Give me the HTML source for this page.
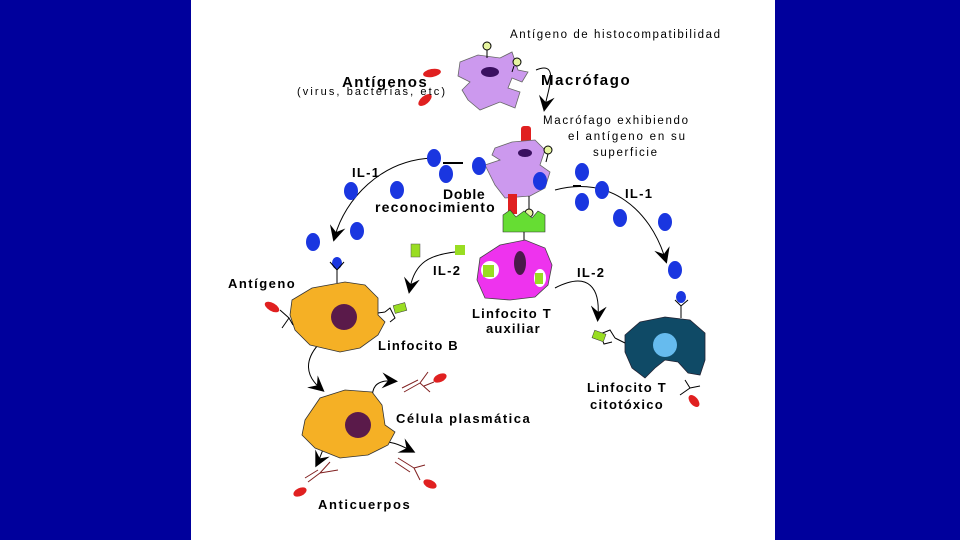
<!DOCTYPE html>
<html><head><meta charset="utf-8"><style>
html,body{margin:0;padding:0;width:960px;height:540px;overflow:hidden;background:#00009c}
svg{display:block}
.b{font-family:"Liberation Sans",sans-serif;font-weight:bold;fill:#000;letter-spacing:1.3px}
.n{font-family:"Liberation Sans",sans-serif;fill:#000}
</style></head><body>
<svg width="960" height="540" viewBox="0 0 960 540">
<rect x="0" y="0" width="960" height="540" fill="#00009c"/>
<rect x="191" y="0" width="584" height="540" fill="#fff"/>
<defs>
<marker id="ah" markerWidth="16" markerHeight="16" refX="10" refY="8" orient="auto" markerUnits="userSpaceOnUse"><path d="M0,0 L16,8 L0,16 L6,8 Z" fill="#000"/></marker>
</defs>
<g stroke="#000" fill="none" stroke-width="1">
<path d="M536,70 C560,60 548,90 545,106" marker-end="url(#ah)"/>
<path d="M433,158 C380,160 345,200 335,236" marker-end="url(#ah)"/>
<path d="M555,190 C610,175 650,210 665,258" marker-end="url(#ah)"/>
<path d="M455,252 C430,255 415,262 410,288" marker-end="url(#ah)"/>
<path d="M555,288 C590,270 600,290 598,316" marker-end="url(#ah)"/>
<path d="M318,345 C305,360 305,375 320,388" marker-end="url(#ah)"/>
<path d="M372,400 C372,388 375,380 392,381" marker-end="url(#ah)"/>
<path d="M328,440 C322,450 320,458 318,462" marker-end="url(#ah)"/>
<path d="M376,442 C390,440 400,445 410,450" marker-end="url(#ah)"/>
<line x1="443" y1="163" x2="463" y2="163" stroke-width="2"/>
<line x1="573" y1="186" x2="581" y2="186" stroke-width="2"/>
</g>
<path d="M460,62 L478,55 L500,58 L512,52 L518,70 L528,72 L522,82 L512,78 L508,88 L520,92 L515,108 L500,102 L480,110 L468,100 L462,90 L470,82 L458,76 Z" fill="#cc99ee" stroke="#666" stroke-width="0.8"/>
<ellipse cx="490" cy="72" rx="9" ry="5" fill="#3a1060"/>
<line x1="487" y1="49" x2="487" y2="58" stroke="#000"/><circle cx="487" cy="46" r="4" fill="#e6f5a0" stroke="#000"/>
<line x1="514" y1="66" x2="512" y2="72" stroke="#000"/><circle cx="517" cy="62" r="4" fill="#e6f5a0" stroke="#000"/>
<ellipse cx="432" cy="73" rx="9" ry="4" fill="#e02020" transform="rotate(-10 432 73)"/>
<ellipse cx="425" cy="100" rx="8" ry="4" fill="#e02020" transform="rotate(-40 425 100)"/>
<rect x="521" y="126" width="10" height="20" rx="3" fill="#e02020"/>
<path d="M495,148 L512,142 L535,140 L545,150 L540,165 L550,172 L545,188 L530,196 L505,198 L495,185 L485,165 L500,160 L492,155 Z" fill="#cc99ee" stroke="#666" stroke-width="0.8"/>
<ellipse cx="525" cy="153" rx="7" ry="4" fill="#3a1060"/>
<line x1="548" y1="154" x2="546" y2="162" stroke="#000"/><circle cx="548" cy="150" r="4" fill="#e6f5a0" stroke="#000"/>
<rect x="508" y="194" width="9" height="20" fill="#e02020"/>
<line x1="529" y1="196" x2="529" y2="210" stroke="#000"/><circle cx="529" cy="213" r="4" fill="#e6f5a0" stroke="#000"/>
<path d="M503,215 L510,210 L516,217 L524,211 L532,218 L538,211 L545,215 L545,232 L503,232 Z" fill="#66dd33" stroke="#333" stroke-width="0.6"/>
<line x1="524" y1="232" x2="524" y2="242" stroke="#000"/>
<g fill="#1a36e0">
<ellipse cx="434" cy="158" rx="7" ry="9"/><ellipse cx="446" cy="174" rx="7" ry="9"/>
<ellipse cx="479" cy="166" rx="7" ry="9"/><ellipse cx="540" cy="181" rx="7" ry="9"/>
<ellipse cx="582" cy="172" rx="7" ry="9"/><ellipse cx="602" cy="190" rx="7" ry="9"/>
<ellipse cx="582" cy="202" rx="7" ry="9"/><ellipse cx="620" cy="218" rx="7" ry="9"/>
<ellipse cx="665" cy="222" rx="7" ry="9"/><ellipse cx="675" cy="270" rx="7" ry="9"/>
<ellipse cx="351" cy="191" rx="7" ry="9"/><ellipse cx="397" cy="190" rx="7" ry="9"/>
<ellipse cx="357" cy="231" rx="7" ry="9"/><ellipse cx="313" cy="242" rx="7" ry="9"/>
<ellipse cx="337" cy="263" rx="5" ry="6"/><ellipse cx="681" cy="297" rx="5" ry="6"/>
</g>
<path d="M480,258 L500,245 L525,240 L545,248 L552,265 L548,285 L535,297 L510,300 L485,298 L477,280 Z" fill="#ee33ee" stroke="#444" stroke-width="0.8"/>
<ellipse cx="520" cy="263" rx="6" ry="12" fill="#4a1a4a"/>
<ellipse cx="490" cy="270" rx="9" ry="9" fill="#fff"/><rect x="483" y="265" width="11" height="12" fill="#99dd22"/>
<ellipse cx="540" cy="278" rx="6" ry="9" fill="#fff"/><rect x="535" y="273" width="8" height="11" fill="#99dd22"/>
<rect x="411" y="244" width="9" height="13" fill="#99dd22" stroke="#555" stroke-width="0.5"/>
<rect x="455" y="245" width="10" height="10" fill="#99dd22"/>
<path d="M292,300 L312,288 L345,282 L365,285 L378,298 L378,315 L385,322 L378,335 L360,348 L340,352 L310,345 L295,330 L290,315 Z" fill="#f5b025" stroke="#333" stroke-width="0.8"/>
<circle cx="344" cy="317" r="13" fill="#5a1a4a"/>
<path d="M330,262 L337,270 L344,262 M337,270 L337,283" stroke="#000" fill="none"/>
<path d="M280,310 L289,318 L282,328 M289,318 L293,325" stroke="#000" fill="none"/>
<ellipse cx="272" cy="307" rx="8" ry="4" fill="#e02020" transform="rotate(30 272 307)"/>
<path d="M385,312 L390,308 L395,318 L390,322 M385,312 L378,313" stroke="#000" fill="none"/>
<rect x="394" y="304" width="12" height="8" fill="#99dd22" stroke="#333" stroke-width="0.5" transform="rotate(-15 400 308)"/>
<path d="M305,420 L320,398 L345,390 L372,392 L382,405 L385,425 L395,432 L388,445 L368,455 L340,458 L315,448 L302,435 Z" fill="#f5b025" stroke="#333" stroke-width="0.8"/>
<circle cx="358" cy="425" r="13" fill="#5a1a4a"/>
<g stroke="#802020" fill="none" stroke-width="1">
<path d="M402,388 L418,380 M404,392 L420,383 M420,383 L428,372 M424,386 L434,382 M420,383 L430,392"/>
<path d="M305,478 L318,470 M308,482 L320,473 M320,473 L330,462 M320,473 L338,470"/>
<path d="M395,462 L410,472 M398,458 L414,468 M414,468 L420,480 M414,468 L425,465"/>
</g>
<ellipse cx="440" cy="378" rx="7" ry="4" fill="#e02020" transform="rotate(-25 440 378)"/>
<ellipse cx="300" cy="492" rx="7" ry="4" fill="#e02020" transform="rotate(-25 300 492)"/>
<ellipse cx="430" cy="484" rx="7" ry="4" fill="#e02020" transform="rotate(25 430 484)"/>
<path d="M625,335 L640,322 L665,317 L690,320 L705,333 L705,360 L700,375 L688,373 L678,362 L665,360 L655,368 L645,378 L632,368 L625,352 Z" fill="#0f4a66" stroke="#223" stroke-width="0.8"/>
<circle cx="665" cy="345" r="12" fill="#66bbee"/>
<path d="M675,300 L681,306 L688,300 M681,306 L681,318" stroke="#000" fill="none"/>
<path d="M625,343 L615,338 M615,338 L610,330 L600,334 L604,344 L612,342" stroke="#000" fill="none"/>
<rect x="593" y="332" width="12" height="8" fill="#99dd22" stroke="#333" stroke-width="0.5" transform="rotate(20 599 336)"/>
<path d="M685,380 L690,388 L680,395 M690,388 L700,386" stroke="#000" fill="none"/>
<ellipse cx="694" cy="401" rx="7" ry="4" fill="#e02020" transform="rotate(50 694 401)"/>
<text x="510" y="38" class="n" font-size="11.5" textLength="210" lengthAdjust="spacing">Antígeno de histocompatibilidad</text>
<text x="342" y="87" class="b" font-size="15" textLength="86" lengthAdjust="spacing">Antígenos</text>
<text x="297" y="95" class="n" font-size="11" textLength="148" lengthAdjust="spacing">(virus, bacterias, etc)</text>
<text x="541" y="85" class="b" font-size="15" textLength="90" lengthAdjust="spacing">Macrófago</text>
<text x="543" y="124" class="n" font-size="11.5" textLength="145" lengthAdjust="spacing">Macrófago exhibiendo</text>
<text x="568" y="140" class="n" font-size="11.5" textLength="117" lengthAdjust="spacing">el antígeno en su</text>
<text x="593" y="156" class="n" font-size="11.5" textLength="64" lengthAdjust="spacing">superficie</text>
<text x="352" y="177" class="b" font-size="13">IL-1</text>
<text x="625" y="198" class="b" font-size="13">IL-1</text>
<text x="443" y="199" class="b" font-size="14" textLength="43" lengthAdjust="spacing">Doble</text>
<text x="375" y="212" class="b" font-size="14" textLength="121" lengthAdjust="spacing">reconocimiento</text>
<text x="433" y="275" class="b" font-size="13">IL-2</text>
<text x="577" y="277" class="b" font-size="13">IL-2</text>
<text x="228" y="288" class="b" font-size="13" textLength="68" lengthAdjust="spacing">Antígeno</text>
<text x="472" y="318" class="b" font-size="13" textLength="80" lengthAdjust="spacing">Linfocito T</text>
<text x="486" y="333" class="b" font-size="13" textLength="55" lengthAdjust="spacing">auxiliar</text>
<text x="378" y="350" class="b" font-size="13" textLength="81" lengthAdjust="spacing">Linfocito B</text>
<text x="587" y="392" class="b" font-size="13" textLength="80" lengthAdjust="spacing">Linfocito T</text>
<text x="590" y="409" class="b" font-size="13" textLength="74" lengthAdjust="spacing">citotóxico</text>
<text x="396" y="423" class="b" font-size="13" textLength="135" lengthAdjust="spacing">Célula plasmática</text>
<text x="318" y="509" class="b" font-size="13" textLength="93" lengthAdjust="spacing">Anticuerpos</text>
</svg>
</body></html>
